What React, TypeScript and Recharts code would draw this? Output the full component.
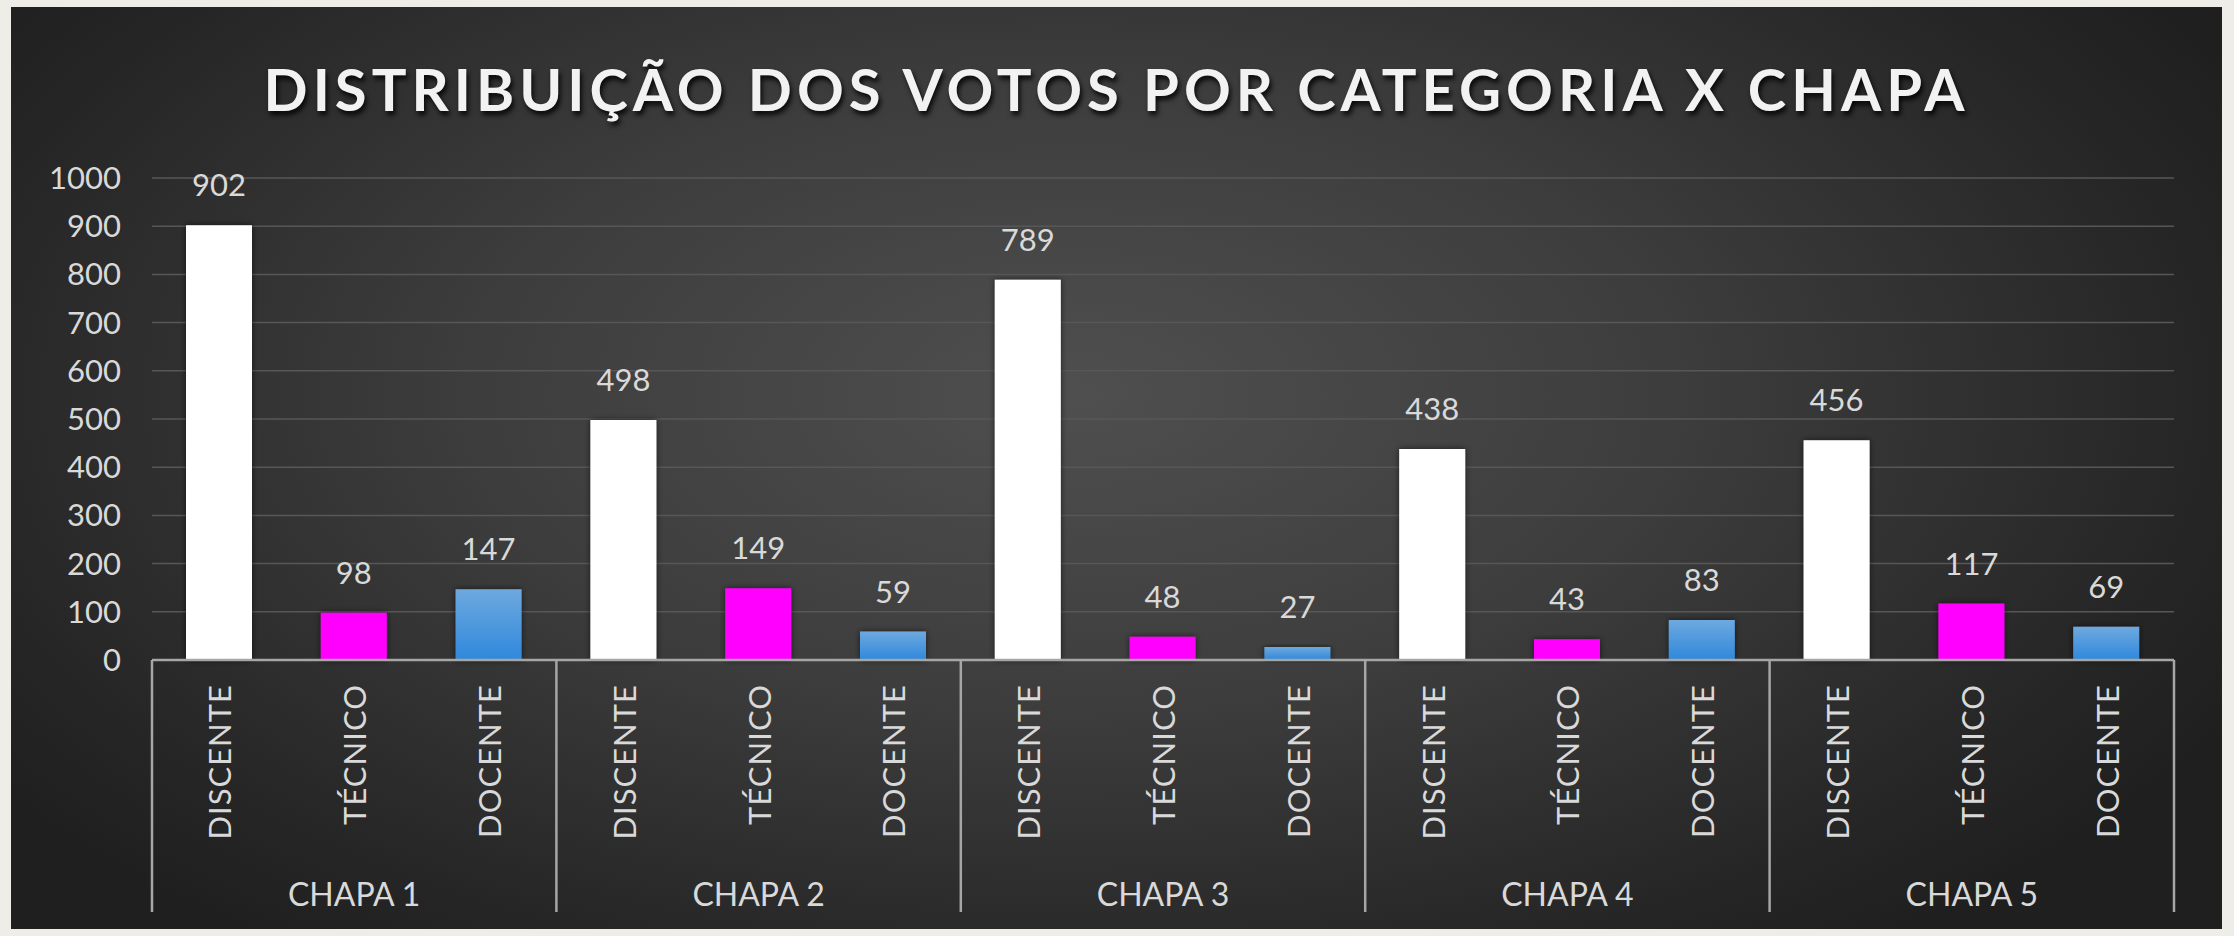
import React from 'react';
import { BarChart, Bar, Cell, XAxis, YAxis, CartesianGrid, LabelList } from 'recharts';

// ── dados do gráfico ─────────────────────────────────────────
const chapas = ['CHAPA 1', 'CHAPA 2', 'CHAPA 3', 'CHAPA 4', 'CHAPA 5'];
const categorias = ['DISCENTE', 'TÉCNICO', 'DOCENTE'];
const votosDiscente = [902, 498, 789, 438, 456];
const votosTecnico = [98, 149, 48, 43, 117];
const votosDocente = [147, 59, 27, 83, 69];
const yTicks = [0, 100, 200, 300, 400, 500, 600, 700, 800, 900, 1000];

const TITULO = 'DISTRIBUIÇÃO DOS VOTOS POR CATEGORIA X CHAPA';

const series = [votosDiscente, votosTecnico, votosDocente];

// uma linha por barra: chapa + categoria
const dados = chapas.flatMap((chapa, ci) =>
  categorias.map((categoria, k) => ({
    chapa,
    categoria,
    votos: series[k][ci],
  })),
);

const CORES: Record<string, string> = {
  DISCENTE: '#ffffff',
  'TÉCNICO': '#ff00ff',
  DOCENTE: 'url(#gradDocente)',
};

const TEXTO = '#d9d9d9';
const FONTE = 'Lato, "Open Sans", sans-serif';

// layout (px)
const PANEL_W = 2211;
const PANEL_H = 922;
const MARGIN = { top: 171, right: 48, left: 0, bottom: 19 };
const Y_AXIS_W = 141;
const X_AXIS_H = 250;
const PLOT_W = PANEL_W - MARGIN.left - MARGIN.right - Y_AXIS_W;
const SLOT = PLOT_W / dados.length;
const TICK_GAP = 24;

// rótulos em dois níveis: categoria girada + chapa abaixo, com separadores
const CategoriaTick = (props: any) => {
  const { x, y, payload } = props;
  const i = payload?.index ?? props.index ?? 0;
  const row = dados[i];
  const axisY = y - TICK_GAP;
  const sep = { stroke: '#a6a6a6', strokeWidth: 2.5 };
  return (
    <g>
      <text
        transform={`translate(${x},${y}) rotate(-90)`}
        textAnchor="end"
        dominantBaseline="central"
        fill={TEXTO}
        fontSize={31}
        fontFamily={FONTE}
        letterSpacing={1}
      >
        {payload.value}
      </text>
      {i % 3 === 0 && (
        <line x1={x - SLOT / 2} x2={x - SLOT / 2} y1={axisY} y2={axisY + 252} {...sep} />
      )}
      {i === dados.length - 1 && (
        <line x1={x + SLOT / 2} x2={x + SLOT / 2} y1={axisY} y2={axisY + 252} {...sep} />
      )}
      {i % 3 === 1 && (
        <text
          x={x}
          y={axisY + 233}
          dominantBaseline="central"
          textAnchor="middle"
          fill={TEXTO}
          fontSize={32}
          fontFamily={FONTE}
        >
          {row.chapa}
        </text>
      )}
    </g>
  );
};

export default function App() {
  return (
    <div style={{ position: 'absolute', left: 0, top: 0, width: 2234, height: 936, background: '#eeede8', overflow: 'hidden' }}>
      <div
        style={{
          position: 'absolute',
          left: 11,
          top: 7,
          width: PANEL_W,
          height: PANEL_H,
          background: 'radial-gradient(ellipse 60% 75% at 48% 42%, #4f4f4f 0%, #3d3d3d 45%, #262626 85%, #1f1f1f 100%)',
        }}
      >
        <div
          style={{
            position: 'absolute',
            left: 0,
            top: 53,
            width: '100%',
            textAlign: 'center',
            color: '#f2f2f2',
            fontFamily: FONTE,
            fontWeight: 700,
            fontSize: 58,
            lineHeight: 1,
            letterSpacing: 5,
            textShadow: '2px 4px 5px rgba(0,0,0,0.85)',
          }}
        >
          {TITULO}
        </div>
        <div style={{ position: 'absolute', left: 0, top: 0 }}>
          <BarChart width={PANEL_W} height={PANEL_H} data={dados} margin={MARGIN} barSize={66}>
            <defs>
              <linearGradient id="gradDocente" x1="0" y1="0" x2="0" y2="1">
                <stop offset="0%" stopColor="#6ea9df" />
                <stop offset="100%" stopColor="#2f88dc" />
              </linearGradient>
              <filter id="sombraBarra" x="-20%" y="-20%" width="140%" height="140%">
                <feDropShadow dx="0" dy="0" stdDeviation="3" floodColor="#000" floodOpacity="0.6" />
              </filter>
            </defs>
            <CartesianGrid horizontal vertical={false} stroke="#575757" strokeWidth={1.5} />
            <YAxis
              width={Y_AXIS_W}
              domain={[0, 1000]}
              ticks={yTicks}
              axisLine={false}
              tickLine={false}
              tickMargin={25}
              tick={{ fill: TEXTO, fontSize: 31, fontFamily: FONTE }}
            />
            <XAxis
              dataKey="categoria"
              height={X_AXIS_H}
              interval={0}
              tickLine={false}
              tickSize={0}
              tickMargin={TICK_GAP}
              axisLine={{ stroke: '#a6a6a6', strokeWidth: 2.5 }}
              tick={<CategoriaTick />}
            />
            <Bar dataKey="votos" isAnimationActive={false} filter="url(#sombraBarra)">
              {dados.map((d, i) => (
                <Cell key={i} fill={CORES[d.categoria]} />
              ))}
              <LabelList dataKey="votos" position="top" offset={29} fill={TEXTO} fontSize={31} fontFamily={FONTE} />
            </Bar>
          </BarChart>
        </div>
      </div>
    </div>
  );
}
